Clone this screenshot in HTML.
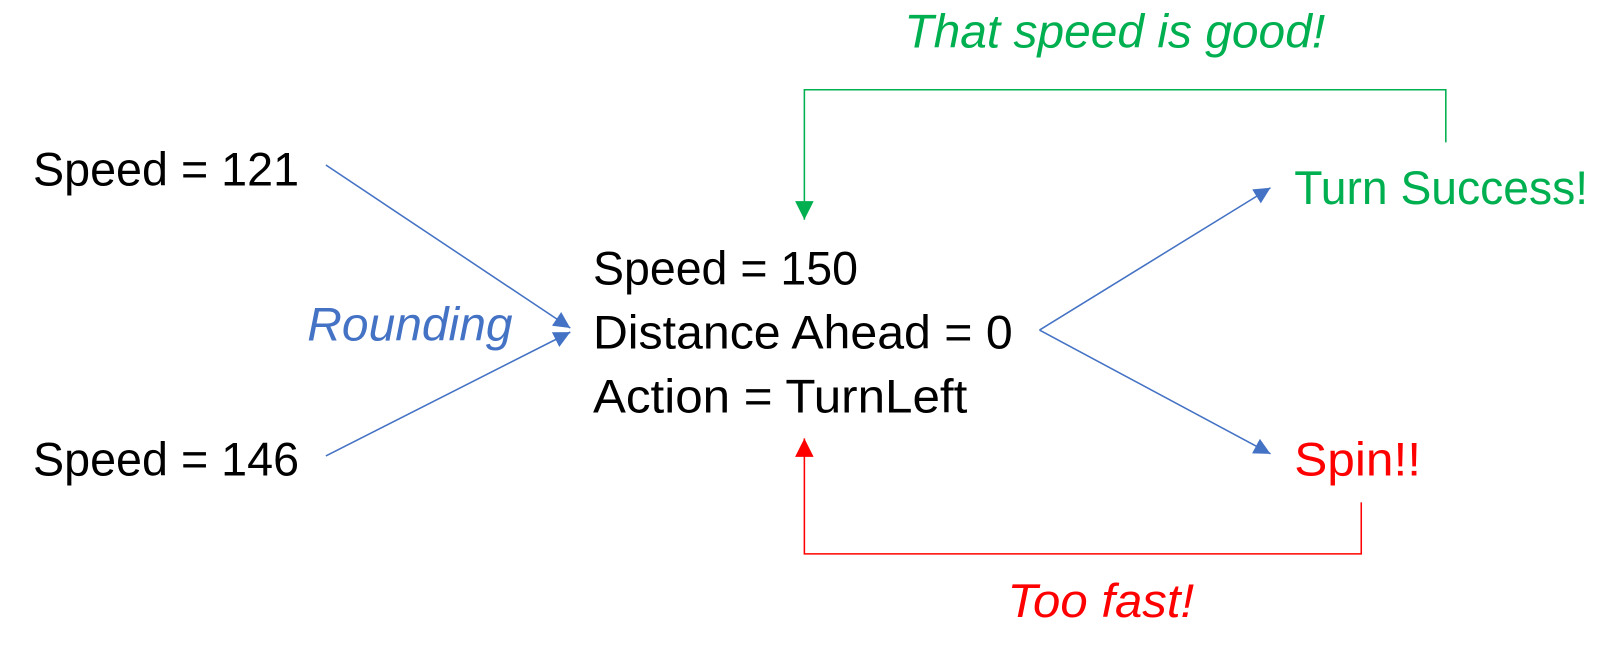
<!DOCTYPE html>
<html><head><meta charset="utf-8"><style>
html,body{margin:0;padding:0;background:#fff;}
svg{display:block;}
text{font-family:"Liberation Sans",sans-serif;font-size:46px;}
</style></head><body>
<svg width="1617" height="656" viewBox="0 0 1568 636" preserveAspectRatio="none" xmlns="http://www.w3.org/2000/svg">
<defs>
<marker id="ab" viewBox="0 0 10 10" refX="10" refY="5" markerWidth="16" markerHeight="16" markerUnits="userSpaceOnUse" orient="auto"><path d="M0,0L10,5L0,10z" fill="#4472C4"/></marker>
<marker id="ag" viewBox="0 0 10 10" refX="10" refY="5" markerWidth="18" markerHeight="18" markerUnits="userSpaceOnUse" orient="auto"><path d="M0,0L10,5L0,10z" fill="#00B050"/></marker>
<marker id="ar" viewBox="0 0 10 10" refX="10" refY="5" markerWidth="18" markerHeight="18" markerUnits="userSpaceOnUse" orient="auto"><path d="M0,0L10,5L0,10z" fill="#FF0000"/></marker>
</defs>
<text x="32" y="180" textLength="258" lengthAdjust="spacingAndGlyphs">Speed = 121</text>
<text x="32" y="461" textLength="258" lengthAdjust="spacingAndGlyphs">Speed = 146</text>
<text x="298" y="330" fill="#4472C4" font-style="italic" textLength="199" lengthAdjust="spacingAndGlyphs">Rounding</text>
<text x="575" y="276" textLength="257" lengthAdjust="spacingAndGlyphs">Speed = 150</text>
<text x="575" y="338" textLength="407" lengthAdjust="spacingAndGlyphs">Distance Ahead = 0</text>
<text x="575" y="400" textLength="363" lengthAdjust="spacingAndGlyphs">Action = TurnLeft</text>
<text x="1255" y="198" fill="#00B050" textLength="285" lengthAdjust="spacingAndGlyphs">Turn Success!</text>
<text x="1255" y="461" fill="#FF0000" textLength="123" lengthAdjust="spacingAndGlyphs">Spin!!</text>
<text x="877" y="46" fill="#00B050" font-style="italic" textLength="408" lengthAdjust="spacingAndGlyphs">That speed is good!</text>
<text x="977" y="598" fill="#FF0000" font-style="italic" textLength="181" lengthAdjust="spacingAndGlyphs">Too fast!</text>
<g stroke="#4472C4" stroke-width="1.5" fill="none">
<line x1="316" y1="160" x2="553" y2="318" marker-end="url(#ab)"/>
<line x1="316" y1="442" x2="553" y2="322" marker-end="url(#ab)"/>
<line x1="1008" y1="320" x2="1232" y2="182" marker-end="url(#ab)"/>
<line x1="1008" y1="320" x2="1232" y2="440" marker-end="url(#ab)"/>
</g>
<polyline points="1402,138 1402,87 780,87 780,213" stroke="#00B050" stroke-width="1.5" fill="none" marker-end="url(#ag)"/>
<polyline points="1320,487 1320,537 780,537 780,425" stroke="#FF0000" stroke-width="1.5" fill="none" marker-end="url(#ar)"/>
</svg>
</body></html>
